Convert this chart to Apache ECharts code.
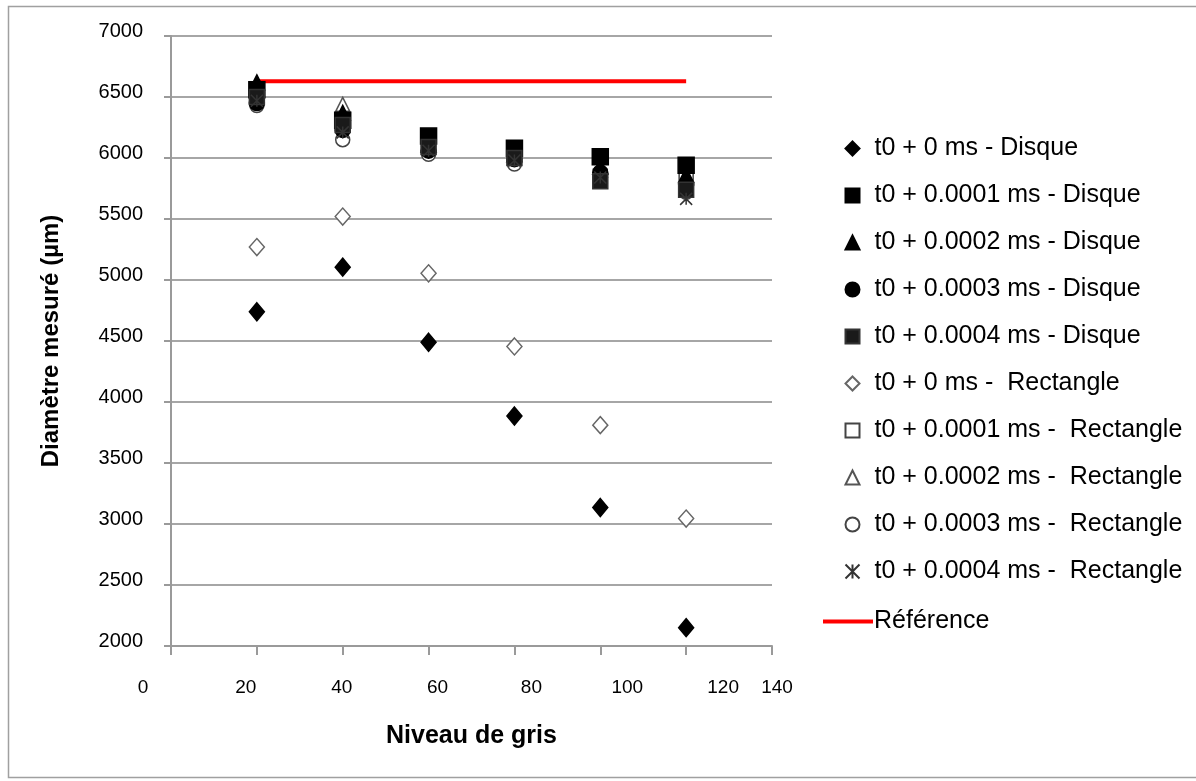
<!DOCTYPE html>
<html>
<head>
<meta charset="utf-8">
<script src="https://cdn.jsdelivr.net/npm/echarts@6/dist/echarts.min.js"></script>
<style>
html,body{margin:0;padding:0;background:#fff;}
#chart{width:1196px;height:781px;}
</style>
</head>
<body>
<div id="chart"></div>
<script>
// ---- data ----
const niveaux = [20, 40, 60, 80, 100, 120];
const disque0 = [4740, 5105, 4490, 3885, 3135, 2150];
const disque1 = [6560, 6310, 6180, 6080, 6010, 5940];
const disque2 = [6620, 6370, 6110, 6030, 5930, 5860];
const disque3 = [6450, 6230, 6060, 5990, 5880, 5780];
const disque4 = [6500, 6270, 6090, 6000, 5810, 5740];
const rect0 = [5270, 5520, 5055, 4455, 3810, 3045];
const rect1 = [6530, 6280, 6150, 6050, 5850, 5820];
const rect2 = [6590, 6440, 6120, 6040, 5900, 5840];
const rect3 = [6430, 6150, 6030, 5950, 5850, 5720];
const rect4 = [6470, 6210, 6060, 5980, 5840, 5665];
const refX = [20, 120];
const refY = [6630, 6630];
const seriesNames = [
  't0 + 0 ms - Disque',
  't0 + 0.0001 ms - Disque',
  't0 + 0.0002 ms - Disque',
  't0 + 0.0003 ms - Disque',
  't0 + 0.0004 ms - Disque',
  't0 + 0 ms -  Rectangle',
  't0 + 0.0001 ms -  Rectangle',
  't0 + 0.0002 ms -  Rectangle',
  't0 + 0.0003 ms -  Rectangle',
  't0 + 0.0004 ms -  Rectangle'
];
const refName = 'Référence';
const yTicks = {min: 2000, max: 7000, interval: 500};
const xTicks = {min: 0, max: 140, interval: 20};

// ---- build ----
const FONT = 'Liberation Sans, Arial, sans-serif';
function pairs(xs, ys){ return xs.map((x,i)=>[x, ys[i]]); }
const starPath = 'path://M0,0L10,10M10,0L0,10M5,0L5,10';
const styles = [
  {symbol:'diamond', size:[15,18], fill:'#000', stroke:'#000', z:4},
  {symbol:'rect', size:16, fill:'#000', stroke:'#000', z:4},
  {symbol:'triangle', size:15, fill:'#000', stroke:'#000', z:4},
  {symbol:'circle', size:15, fill:'#000', stroke:'#000', z:4},
  {symbol:'rect', size:15, fill:'#1a1a1a', stroke:'#333', z:4},
  {symbol:'diamond', size:[15,17], fill:'#fff', stroke:'#666', z:3},
  {symbol:'rect', size:14, fill:'#fff', stroke:'#444', z:3},
  {symbol:'triangle', size:14, fill:'#fff', stroke:'#555', z:3},
  {symbol:'circle', size:14, fill:'#fff', stroke:'#444', z:3},
  {symbol:starPath, size:12, fill:'none', stroke:'#333', z:5}
];
const allY = [disque0, disque1, disque2, disque3, disque4, rect0, rect1, rect2, rect3, rect4];
const series = allY.map((ys, i) => ({
  name: seriesNames[i],
  type: 'scatter',
  data: pairs(niveaux, ys),
  symbol: styles[i].symbol,
  symbolSize: styles[i].size,
  itemStyle: {color: styles[i].fill, borderColor: styles[i].stroke, borderWidth: 1.5, opacity: 1},
  z: styles[i].z
}));
series.push({
  name: refName,
  type: 'line',
  data: pairs(refX, refY),
  symbol: 'none',
  lineStyle: {color: '#ff0000', width: 4},
  itemStyle: {color: '#ff0000'},
  z: 2
});

// horizontal label shifts (px) as drawn in the original, per tick
const xLabelShift = [-28, -11, -1, 9, 17, 27, 37, 5];
const xRich = {};
xLabelShift.forEach((dx, i) => {
  xRich['l' + i] = {
    fontSize: 19, color: '#000', fontFamily: FONT,
    padding: dx >= 0 ? [0, 0, 0, 2 * dx] : [0, -2 * dx, 0, 0]
  };
});

const chart = echarts.init(document.getElementById('chart'), null, {renderer: 'canvas'});
chart.setOption({
  backgroundColor: '#fff',
  animation: false,
  textStyle: {fontFamily: FONT},
  graphic: [{
    type: 'rect', silent: true,
    shape: {x: 8.5, y: 6.5, width: 1200, height: 771},
    style: {fill: 'none', stroke: '#a0a0a0', lineWidth: 1.5}
  }],
  grid: {left: 171, right: 424, top: 36, bottom: 135, containLabel: false},
  xAxis: {
    type: 'value', min: xTicks.min, max: xTicks.max, interval: xTicks.interval,
    name: 'Niveau de gris', nameLocation: 'middle', nameGap: 78,
    nameTextStyle: {fontFamily: FONT, fontWeight: 'bold', fontSize: 25, color: '#000'},
    axisLine: {show: true, lineStyle: {color: '#9a9a9a', width: 2}},
    axisTick: {show: true, length: 9, lineStyle: {color: '#9a9a9a', width: 2}},
    splitLine: {show: false},
    axisLabel: {
      color: '#000', fontSize: 19, margin: 32, fontFamily: FONT,
      formatter: function (v) {
        const i = Math.round((v - xTicks.min) / xTicks.interval);
        return '{l' + i + '|' + v + '}';
      },
      rich: xRich
    }
  },
  yAxis: {
    type: 'value', min: yTicks.min, max: yTicks.max, interval: yTicks.interval,
    name: 'Diamètre mesuré (µm)', nameLocation: 'middle', nameGap: 108,
    nameTextStyle: {fontFamily: FONT, fontWeight: 'bold', fontSize: 24, color: '#000'},
    axisLine: {show: true, lineStyle: {color: '#9a9a9a', width: 2}},
    axisTick: {show: true, length: 7, lineStyle: {color: '#9a9a9a', width: 2}},
    splitLine: {show: true, lineStyle: {color: '#a6a6a6', width: 2}},
    axisLabel: {
      color: '#000', fontSize: 20, margin: 28, fontFamily: FONT,
      formatter: function (v) { return '{a|' + v + '}'; },
      rich: {a: {fontSize: 20, color: '#000', fontFamily: FONT, padding: [0, 0, 9, 0]}}
    }
  },
  legend: [{
    data: seriesNames,
    orient: 'vertical', left: 838, top: 131,
    itemWidth: 14, itemHeight: 14, itemGap: 22,
    textStyle: {fontSize: 25, color: '#000', fontFamily: FONT, padding: [0, 0, 0, 10]},
    selectedMode: false
  }, {
    data: [{name: refName, icon: 'rect'}],
    orient: 'vertical', left: 818, top: 604,
    itemWidth: 50, itemHeight: 4,
    textStyle: {fontSize: 25, color: '#000', fontFamily: FONT, padding: [0, 0, 0, -4]},
    selectedMode: false
  }],
  series: series
});
</script>
</body>
</html>
